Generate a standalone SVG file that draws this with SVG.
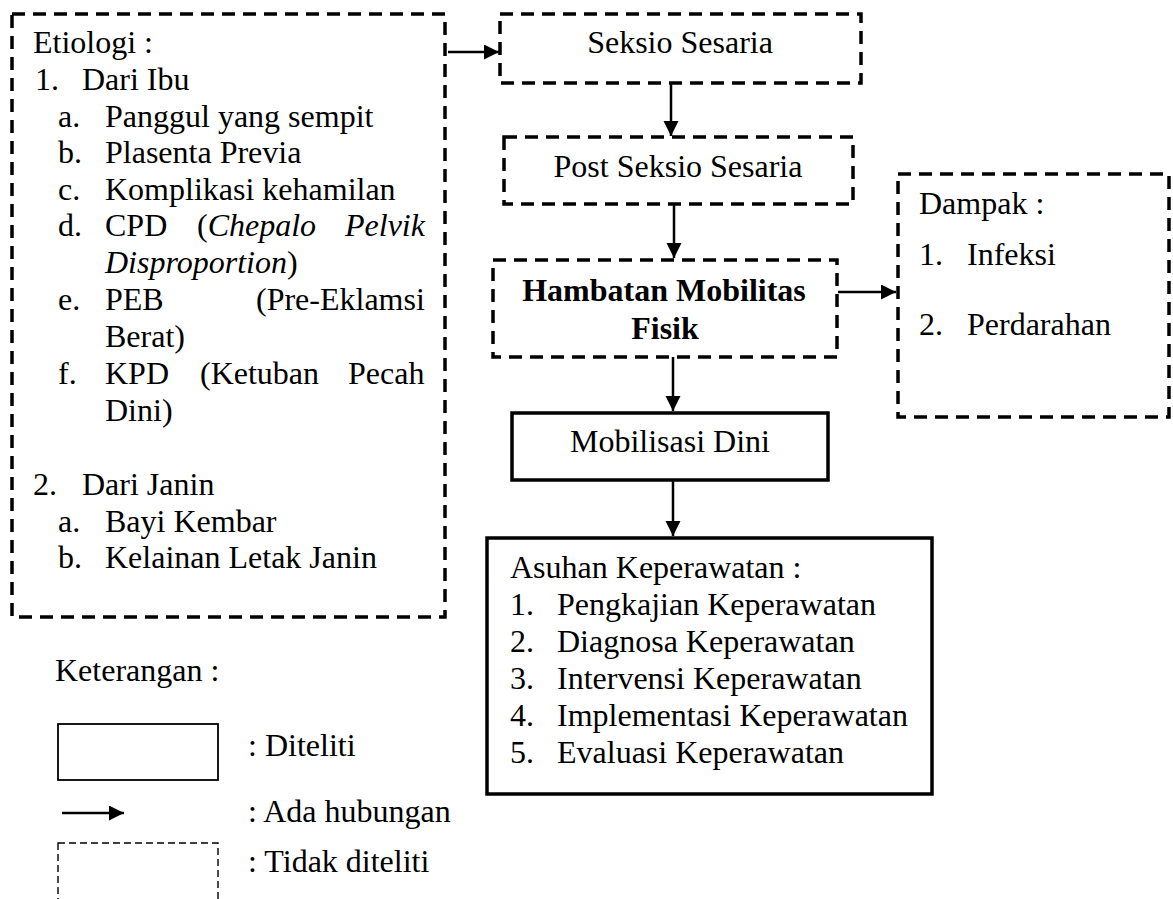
<svg xmlns="http://www.w3.org/2000/svg" width="1173" height="899" viewBox="0 0 1173 899">
<style>
text{font-family:"Liberation Serif","Times New Roman",serif;font-size:32px;fill:#000}
.b{font-weight:bold}
.i{font-style:italic}
.m{text-anchor:middle}
.dash{fill:none;stroke:#000;stroke-width:3.5;stroke-dasharray:13 8}
.solid{fill:none;stroke:#000;stroke-width:3.5}
.conn{fill:none;stroke:#000;stroke-width:2.5}
</style>
<defs>
<marker id="ah" markerUnits="userSpaceOnUse" markerWidth="16" markerHeight="16" refX="15" refY="7.5" orient="auto">
<path d="M0,0 L15,7.5 L0,15 z" fill="#000"/>
</marker>
</defs>
<rect width="1173" height="899" fill="#fff"/>

<g id="etiologi">
<rect class="dash" x="12" y="14" width="433" height="603"/>
<text x="33" y="53">Etiologi :</text>
<text x="35" y="90">1.</text><text x="82" y="90">Dari Ibu</text>
<text x="58" y="127">a.</text><text x="105" y="127">Panggul yang sempit</text>
<text x="58" y="163">b.</text><text x="105" y="163">Plasenta Previa</text>
<text x="58" y="200">c.</text><text x="105" y="200">Komplikasi kehamilan</text>
<text x="58" y="236">d.</text><text x="105" y="236">CPD</text><text x="197" y="236">(<tspan class="i">Chepalo</tspan></text><text x="345" y="236" class="i">Pelvik</text>
<text x="105" y="273"><tspan class="i">Disproportion</tspan>)</text>
<text x="58" y="310">e.</text><text x="105" y="310">PEB</text><text x="256" y="310">(Pre-Eklamsi</text>
<text x="105" y="347">Berat)</text>
<text x="58" y="384">f.</text><text x="105" y="384">KPD</text><text x="200" y="384">(Ketuban</text><text x="348" y="384">Pecah</text>
<text x="105" y="421">Dini)</text>
<text x="33" y="495">2.</text><text x="82" y="495">Dari Janin</text>
<text x="58" y="532">a.</text><text x="105" y="532">Bayi Kembar</text>
<text x="58" y="568">b.</text><text x="105" y="568">Kelainan Letak Janin</text>
</g>

<g id="seksio">
<rect class="dash" x="500" y="14" width="361" height="69"/>
<text class="m" x="680" y="53">Seksio Sesaria</text>
</g>

<g id="post-seksio">
<rect class="dash" x="504" y="137" width="349" height="67"/>
<text class="m" x="678" y="177">Post Seksio Sesaria</text>
</g>

<g id="hambatan">
<rect class="dash" x="493" y="260" width="344" height="97"/>
<text class="m b" x="664" y="301">Hambatan Mobilitas</text>
<text class="m b" x="665" y="339">Fisik</text>
</g>

<g id="dampak">
<rect class="dash" x="898" y="174" width="271" height="243"/>
<text x="919" y="214">Dampak :</text>
<text x="919" y="265">1.</text><text x="967" y="265">Infeksi</text>
<text x="919" y="335">2.</text><text x="967" y="335">Perdarahan</text>
</g>

<g id="mobilisasi">
<rect class="solid" x="512" y="413" width="316" height="67"/>
<text class="m" x="670" y="452">Mobilisasi Dini</text>
</g>

<g id="asuhan">
<rect class="solid" x="487" y="538" width="445" height="256"/>
<text x="510" y="578">Asuhan Keperawatan :</text>
<text x="510" y="615">1.</text><text x="557" y="615">Pengkajian Keperawatan</text>
<text x="510" y="652">2.</text><text x="557" y="652">Diagnosa Keperawatan</text>
<text x="510" y="689">3.</text><text x="557" y="689">Intervensi Keperawatan</text>
<text x="510" y="726">4.</text><text x="557" y="726">Implementasi Keperawatan</text>
<text x="510" y="763">5.</text><text x="557" y="763">Evaluasi Keperawatan</text>
</g>

<g id="connectors">
<line class="conn" x1="448" y1="52" x2="499" y2="52" marker-end="url(#ah)"/>
<line class="conn" x1="671" y1="83" x2="671" y2="136" marker-end="url(#ah)"/>
<line class="conn" x1="674" y1="204" x2="674" y2="258" marker-end="url(#ah)"/>
<line class="conn" x1="838" y1="292" x2="896" y2="292" marker-end="url(#ah)"/>
<line class="conn" x1="673" y1="357" x2="673" y2="411" marker-end="url(#ah)"/>
<line class="conn" x1="673" y1="481" x2="673" y2="536" marker-end="url(#ah)"/>
</g>

<g id="legend">
<text x="55" y="681">Keterangan :</text>
<rect x="58" y="724" width="160" height="56" fill="none" stroke="#000" stroke-width="1.8"/>
<text x="248" y="756">: Diteliti</text>
<line x1="62" y1="813" x2="124" y2="813" stroke="#000" stroke-width="2.5" marker-end="url(#ah)"/>
<text x="248" y="822">: Ada hubungan</text>
<rect x="58" y="843" width="160" height="80" fill="none" stroke="#000" stroke-width="1.4" stroke-dasharray="7 4"/>
<text x="248" y="872">: Tidak diteliti</text>
</g>
</svg>
